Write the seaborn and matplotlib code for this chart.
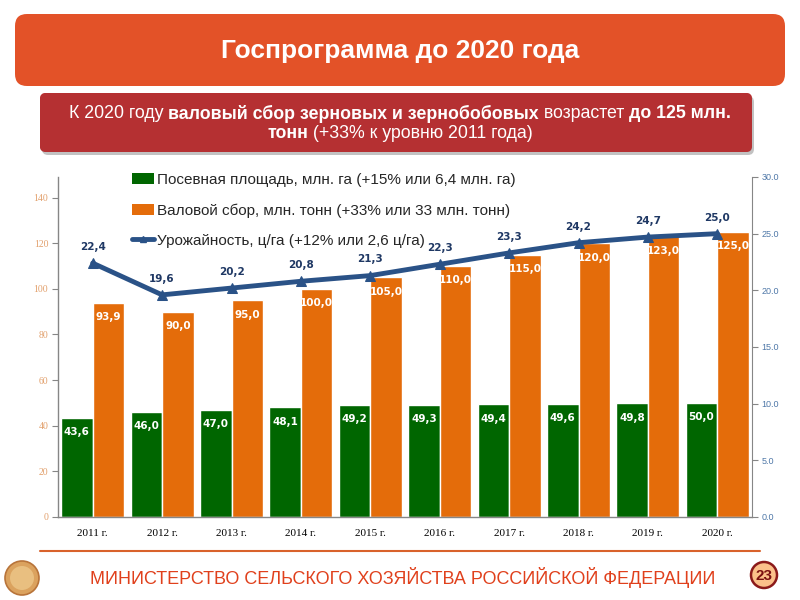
import numpy as np
import pandas as pd
import matplotlib.pyplot as plt
import seaborn as sns
from matplotlib.patches import FancyBboxPatch, Circle
from matplotlib.lines import Line2D
from matplotlib.patches import Patch
from matplotlib.colors import LinearSegmentedColormap
from matplotlib.font_manager import fontManager

# data
years = ['2011 г.', '2012 г.', '2013 г.', '2014 г.', '2015 г.',
         '2016 г.', '2017 г.', '2018 г.', '2019 г.', '2020 г.']
area = [43.6, 46.0, 47.0, 48.1, 49.2, 49.3, 49.4, 49.6, 49.8, 50.0]
harvest = [93.9, 90.0, 95.0, 100.0, 105.0, 110.0, 115.0, 120.0, 123.0, 125.0]
crop_yield = [22.4, 19.6, 20.2, 20.8, 21.3, 22.3, 23.3, 24.2, 24.7, 25.0]
series = ['Посевная площадь, млн. га (+15% или 6,4 млн. га)',
          'Валовой сбор, млн. тонн (+33% или 33 млн. тонн)']
line_name = 'Урожайность, ц/га (+12% или 2,6 ц/га)'
left_ticks = [0, 20, 40, 60, 80, 100, 120, 140]
right_ticks = [0, 5, 10, 15, 20, 25, 30]

title = 'Госпрограмма до 2020 года'
sub_line1 = [('К 2020 году ', 'normal'), ('валовый сбор зерновых и зернобобовых', 'bold'),
             (' возрастет ', 'normal'), ('до 125 млн.', 'bold')]
sub_line2 = [('тонн', 'bold'), (' (+33% к уровню 2011 года)', 'normal')]
footer = 'МИНИСТЕРСТВО СЕЛЬСКОГО ХОЗЯЙСТВА РОССИЙСКОЙ ФЕДЕРАЦИИ'
page_no = '23'

green = '#006600'
orange = '#E46C0A'
navy = '#2a5287'
label_navy = '#1f3864'

sns.set_style('white')
plt.rcParams['font.family'] = ['Liberation Sans', 'DejaVu Sans']
names = {f.name for f in fontManager.ttflist}
narrow = 'Liberation Sans Narrow' if 'Liberation Sans Narrow' in names else 'Liberation Sans'

fig = plt.figure(figsize=(8, 6), dpi=100)

# background layer in pixel units
bg = fig.add_axes([0, 0, 1, 1], zorder=0)
bg.axis('off')

# header banner
bg.add_patch(FancyBboxPatch((15, 14), 770, 72, boxstyle='round,pad=0,rounding_size=12',
                            fc='#e35228', ec='none'))
bg.text(400, 51, title, color='white', fontsize=19, fontweight='bold',
        family=narrow, ha='center', va='center')

# subtitle box with shadow + gradient
bg.add_patch(FancyBboxPatch((42, 96), 712, 59, boxstyle='round,pad=0,rounding_size=6',
                            fc='#9a9a9a', ec='none', alpha=0.6))
sub_box = FancyBboxPatch((40, 93), 712, 59, boxstyle='round,pad=0,rounding_size=6',
                         fc='#b53032', ec='none')
bg.add_patch(sub_box)
grad = np.linspace(0, 1, 100).reshape(-1, 1)
cmap = LinearSegmentedColormap.from_list('g', ['#cc4443', '#a8282b'])
im = bg.imshow(grad, extent=[40, 752, 152, 93], cmap=cmap, aspect='auto')
im.set_clip_path(sub_box)


def rich_line(y, parts, size):
    texts = [bg.text(0, y, s, fontsize=size, fontweight=w, color='white',
                     va='center', ha='left', family=narrow) for s, w in parts]
    fig.canvas.draw()
    r = fig.canvas.get_renderer()
    widths = [t.get_window_extent(r).width for t in texts]
    x = 400 - sum(widths) / 2
    for t, w in zip(texts, widths):
        t.set_x(x)
        x += w


# footer
bg.plot([40, 760], [551, 551], color='#d9622b', lw=1.5)
bg.text(403, 578, footer, color='#e0401c', fontsize=13, family=narrow,
        ha='center', va='center')
bg.add_patch(Circle((22, 578), 17, fc='#dba25e', ec='#b8743a', lw=1.2))
bg.add_patch(Circle((22, 578), 12, fc='#e9bf80', ec='none'))
bg.add_patch(Circle((764, 575), 13, fc='#fbc08a', ec='#8b1a1a', lw=1.8))
bg.text(764, 576, page_no, color='#7a1010', fontsize=11, fontweight='bold',
        ha='center', va='center')

bg.set_xlim(0, 800)
bg.set_ylim(600, 0)

# main chart
ax = fig.add_axes([58 / 800, 1 - 517 / 600, 694 / 800, 340 / 600], zorder=2)
ax.patch.set_alpha(0)
df = pd.DataFrame({
    'year': years * 2,
    'value': area + harvest,
    'series': [series[0]] * len(years) + [series[1]] * len(years),
})
sns.barplot(data=df, x='year', y='value', hue='series', hue_order=series, order=years,
            palette=[green, orange], saturation=1, width=0.91, gap=0, legend=False, ax=ax)
for cont in ax.containers:
    vals = [b.get_height() for b in cont]
    ax.bar_label(cont, labels=[f'{v:.1f}'.replace('.', ',') for v in vals],
                 padding=-14, color='white', fontsize=7.5, fontweight='bold',
                 family='DejaVu Sans')

ax.set_ylim(0, 149)
ax.set_yticks(left_ticks)
ax.set_yticklabels([str(t) for t in left_ticks], color='#e2a06c', fontsize=7,
                   family='Liberation Serif')
ax.set_xlabel('')
ax.set_ylabel('')
ax.set_xticks(range(len(years)))
ax.set_xticklabels(years, fontsize=8, family='Liberation Serif', color='black')
ax.set_xticks(np.arange(len(years) + 1) - 0.5, minor=True)
ax.tick_params(axis='x', which='major', length=0, pad=9)
ax.tick_params(axis='x', which='minor', length=4, color='#868686', direction='out')
ax.tick_params(axis='y', length=4, color='#868686', direction='out', left=True, pad=3)
for s in ['top', 'right']:
    ax.spines[s].set_visible(False)
for s in ['left', 'bottom']:
    ax.spines[s].set_color('#868686')
    ax.spines[s].set_linewidth(1)

ax2 = ax.twinx()
ax2.set_zorder(3)
pos = np.arange(len(years))
sns.lineplot(x=pos, y=crop_yield, ax=ax2, color=navy, lw=3.5, marker='^',
             markersize=7, markeredgecolor=navy)
for x, v in zip(pos, crop_yield):
    ax2.annotate(f'{v:.1f}'.replace('.', ','), (x, v), xytext=(0, 8),
                 textcoords='offset points', ha='center', va='bottom',
                 color=label_navy, fontsize=7.5, fontweight='bold', family='DejaVu Sans')
ax2.set_ylim(0, 30)
ax2.set_yticks(right_ticks)
ax2.set_yticklabels([f'{t:.1f}' for t in right_ticks], color='#4f78a8', fontsize=6.5)
ax2.tick_params(axis='y', length=4, color='#868686', direction='out', right=True, pad=3)
for s in ['top', 'left', 'bottom']:
    ax2.spines[s].set_visible(False)
ax2.spines['right'].set_color('#868686')
ax2.set_xlim(-0.5, len(years) - 0.5)

handles = [Patch(fc=green, ec='none'), Patch(fc=orange, ec='none'),
           Line2D([], [], color=navy, lw=3.5, marker='^', markersize=5)]
ax2.legend(handles, series + [line_name], loc='upper left',
           bbox_to_anchor=(126 / 800, 1 - 167 / 600), bbox_transform=fig.transFigure,
           frameon=False, fontsize=11, labelspacing=1.05, handlelength=1.45,
           handletextpad=0.2, borderaxespad=0)

rich_line(114, sub_line1, 12.75)
rich_line(134, sub_line2, 12.75)

fig.savefig('out.png', dpi=100)
